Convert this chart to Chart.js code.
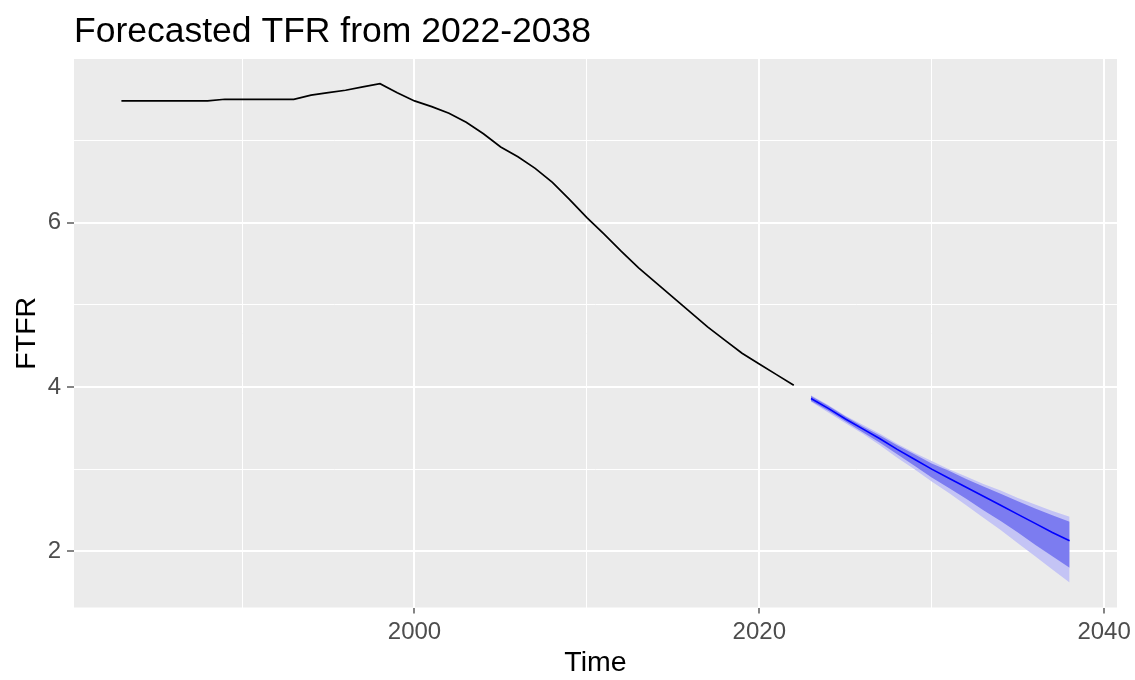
<!DOCTYPE html>
<html>
<head>
<meta charset="utf-8">
<script src="https://cdn.jsdelivr.net/npm/chart.js@4/dist/chart.umd.min.js"></script>
<style>
  html, body { margin: 0; padding: 0; background: #ffffff; }
  #wrap { width: 1135px; height: 680px; }
</style>
</head>
<body>
<div id="wrap"><canvas id="c" width="1135" height="680"></canvas></div>
<script>
// Observed total fertility rate, 1983-2022
const histYears = [1983,1984,1985,1986,1987,1988,1989,1990,1991,1992,1993,1994,1995,1996,1997,1998,1999,2000,
  2001,2002,2003,2004,2005,2006,2007,2008,2009,2010,2011,2012,2013,2014,2015,2016,2017,2018,2019,2020,2021,2022];
const histTFR = [7.48,7.48,7.48,7.48,7.48,7.48,7.50,7.50,7.50,7.50,7.50,7.55,7.58,7.61,7.65,7.69,7.58,7.48,
  7.41,7.33,7.22,7.08,6.92,6.80,6.66,6.49,6.28,6.06,5.86,5.65,5.45,5.27,5.09,4.91,4.73,4.57,4.41,4.28,4.15,4.02];

// Forecast 2023-2038: point forecast and 80% / 95% prediction intervals
const fcYears = [2023,2024,2025,2026,2027,2028,2029,2030,2031,2032,2033,2034,2035,2036,2037,2038];
const fcMean  = [3.86,3.74,3.61,3.49,3.37,3.24,3.12,3.00,2.89,2.78,2.67,2.56,2.45,2.34,2.23,2.13];
const fcLo80  = [3.83,3.71,3.58,3.45,3.32,3.18,3.04,2.90,2.77,2.64,2.50,2.37,2.23,2.08,1.94,1.80];
const fcHi80  = [3.89,3.77,3.64,3.52,3.41,3.29,3.18,3.07,2.98,2.88,2.79,2.70,2.61,2.52,2.44,2.36];
const fcLo95  = [3.82,3.69,3.56,3.43,3.29,3.14,3.00,2.85,2.71,2.56,2.41,2.26,2.10,1.94,1.78,1.62];
const fcHi95  = [3.90,3.78,3.65,3.54,3.43,3.31,3.20,3.10,3.00,2.91,2.82,2.74,2.65,2.57,2.49,2.42];

// Axis breaks (major labelled, minor unlabelled)
const xMajor = [2000, 2020, 2040];
const xMinor = [1990, 2010, 2030];
const yMajor = [2, 4, 6];
const yMinor = [3, 5, 7];

const FONT = '"Liberation Sans", Arial, Helvetica, sans-serif';
const pts = (xs, ys) => xs.map((x, i) => ({ x: x, y: ys[i] }));
const isMajor = (list, v) => list.indexOf(v) !== -1;

// Grey panel behind the plotting area
const panelBg = {
  id: 'panelBg',
  beforeDraw(chart) {
    const { ctx, chartArea: a } = chart;
    ctx.save();
    ctx.fillStyle = '#EBEBEB';
    ctx.fillRect(a.left, a.top, a.right - a.left, a.bottom - a.top);
    ctx.restore();
  }
};

const lineDs = (label, data, color, width) => ({
  label, data, borderColor: color, borderWidth: width, pointRadius: 0,
  fill: false, tension: 0
});
const edgeDs = (label, data, fill, bg) => ({
  label, data, borderWidth: 0, borderColor: 'rgba(0,0,0,0)', pointRadius: 0,
  fill: fill, backgroundColor: bg, tension: 0
});

new Chart(document.getElementById('c'), {
  type: 'line',
  data: {
    datasets: [
      lineDs('TFR', pts(histYears, histTFR), '#000000', 1.7),
      lineDs('Forecast', pts(fcYears, fcMean), '#0000FF', 1.6),
      edgeDs('Lo 80', pts(fcYears, fcLo80), false, 'rgba(0,0,0,0)'),
      edgeDs('Hi 80', pts(fcYears, fcHi80), '-1', '#7C7CF0'),
      edgeDs('Lo 95', pts(fcYears, fcLo95), false, 'rgba(0,0,0,0)'),
      edgeDs('Hi 95', pts(fcYears, fcHi95), '-1', '#C4C4F5')
    ]
  },
  options: {
    responsive: false,
    devicePixelRatio: 1,
    animation: false,
    events: [],
    layout: { padding: { left: 0, right: 17, top: 0, bottom: 0 } },
    plugins: {
      legend: { display: false },
      tooltip: { enabled: false },
      title: {
        display: true,
        text: 'Forecasted TFR from 2022-2038',
        align: 'start',
        fullSize: false,
        color: '#000000',
        font: { family: FONT, size: 35.5, weight: 'normal' },
        padding: { top: 11, bottom: 5.4 }
      }
    },
    scales: {
      x: {
        type: 'linear',
        min: 1980.25,
        max: 2040.75,
        afterFit(scale) { scale.height = 72.5; },
        afterBuildTicks(scale) {
          scale.ticks = xMinor.concat(xMajor).sort((a, b) => a - b).map(v => ({ value: v }));
        },
        border: { display: false },
        grid: {
          color: '#FFFFFF',
          lineWidth: c => (c.tick && isMajor(xMajor, c.tick.value)) ? 2 : 1,
          drawTicks: true,
          tickLength: 6,
          tickWidth: 1.2,
          tickColor: c => (c.tick && isMajor(xMajor, c.tick.value)) ? '#333333' : 'rgba(0,0,0,0)'
        },
        ticks: {
          autoSkip: false,
          maxRotation: 0,
          padding: 4,
          color: '#4D4D4D',
          font: { family: FONT, size: 24 },
          callback: v => isMajor(xMajor, v) ? String(v) : ''
        },
        title: {
          display: true,
          text: 'Time',
          color: '#000000',
          font: { family: FONT, size: 28.5 },
          padding: { top: 0, bottom: 0 }
        }
      },
      y: {
        type: 'linear',
        min: 1.317,
        max: 7.99,
        afterFit(scale) { scale.width = 74; },
        afterBuildTicks(scale) {
          scale.ticks = yMajor.concat(yMinor).sort((a, b) => a - b).map(v => ({ value: v }));
        },
        border: { display: false },
        grid: {
          color: '#FFFFFF',
          lineWidth: c => (c.tick && isMajor(yMajor, c.tick.value)) ? 2 : 1,
          drawTicks: true,
          tickLength: 7,
          tickWidth: 1.2,
          tickColor: c => (c.tick && isMajor(yMajor, c.tick.value)) ? '#333333' : 'rgba(0,0,0,0)'
        },
        ticks: {
          autoSkip: false,
          padding: 6,
          color: '#4D4D4D',
          font: { family: FONT, size: 24 },
          callback: v => isMajor(yMajor, v) ? String(v) : ''
        },
        title: {
          display: true,
          text: 'FTFR',
          color: '#000000',
          font: { family: FONT, size: 28.5 },
          padding: { top: 10, bottom: 0 }
        }
      }
    }
  },
  plugins: [panelBg]
});
</script>
</body>
</html>
